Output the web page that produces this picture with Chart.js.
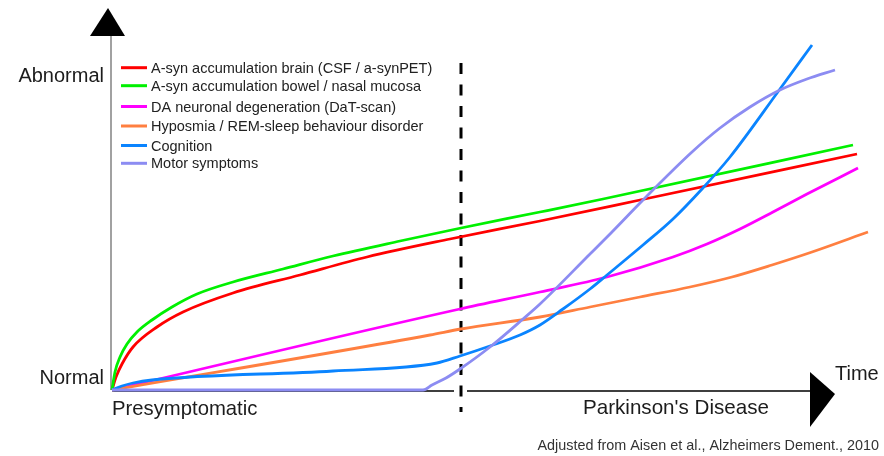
<!DOCTYPE html>
<html>
<head>
<meta charset="utf-8">
<title>Parkinson's disease biomarker timeline</title>
<script src="https://cdn.jsdelivr.net/npm/chart.js@4.4.1/dist/chart.umd.min.js"></script>
<style>
  html, body { margin: 0; padding: 0; background: #ffffff; }
  #wrap { width: 884px; height: 456px; position: relative; }
  canvas { display: block; }
</style>
</head>
<body>
<div id="wrap"><canvas id="timeline" width="884" height="456"></canvas></div>
<script>
// Time runs along x (arbitrary units), level of abnormality along y (arbitrary units).
// Each series is a list of [time, level] pairs.
const seriesLabels = [
  'A-syn accumulation brain (CSF / a-synPET)',
  'A-syn accumulation bowel / nasal mucosa',
  'DA neuronal degeneration (DaT-scan)',
  'Hyposmia / REM-sleep behaviour disorder',
  'Cognition',
  'Motor symptoms'
];
const seriesColors = ['#ff0000', '#00f000', '#ff00ff', '#ff7f40', '#0a84ff', '#8c8cf2'];

const brainSyn = [[0,0],[4,13],[10,26],[21,43],[45,63],[71,78],[121,97],[188,115],[255,133],[338,151],[428,169],[528,190],[745,236]];
const bowelSyn = [[0,0],[3,18],[8,33],[15,46],[25,58],[40,70],[60,83],[85,96],[121,108],[171,121],[221,134],[288,149],[349,162],[428,178],[491,191],[741,245]];
const daDegeneration = [[0,0],[348,81],[428,98],[495,113],[561,133],[595,146],[628,161],[661,178],[695,196],[746,222]];
const hyposmiaRbd = [[0,0],[318,55],[349,61],[428,73],[478,83],[528,93],[578,103],[620,113],[660,125],[700,138],[756,158]];
const cognition = [[0,0],[10,4],[21,7],[40,10],[221,19],[325,27],[348,34],[378,44],[408,55],[428,65],[451,81],[478,101],[495,115],[531,145],[561,171],[590,201],[618,233],[668,301],[700,345]];
const motorSymptoms = [[0,0],[311,0],[320,5],[334,12],[348,21],[378,43],[411,71],[428,86],[478,136],[500,158],[531,190],[580,238],[608,262],[638,283],[668,300],[695,311],[723,320]];

const seriesValues = [brainSyn, bowelSyn, daDegeneration, hyposmiaRbd, cognition, motorSymptoms];

// Phase boundary between the presymptomatic stage and clinical disease
const diagnosisTime = 349;

const axisLabels = { high: 'Abnormal', low: 'Normal', time: 'Time' };
const phaseLabels = ['Presymptomatic', "Parkinson's Disease"];
const sourceNote = 'Adjusted from Aisen et al., Alzheimers Dement., 2010';

const FONT = "'Liberation Sans', Arial, Helvetica, sans-serif";

const datasets = seriesValues.map((pts, i) => ({
  label: seriesLabels[i],
  data: pts.map(p => ({ x: p[0], y: p[1] })),
  borderColor: seriesColors[i],
  backgroundColor: seriesColors[i],
  borderWidth: 2.8,
  pointRadius: 0,
  fill: false,
  cubicInterpolationMode: 'monotone',
  clip: false,
  order: 6 - i
}));

function triangle(ctx, a, b, c) {
  ctx.beginPath();
  ctx.moveTo(a[0], a[1]);
  ctx.lineTo(b[0], b[1]);
  ctx.lineTo(c[0], c[1]);
  ctx.closePath();
  ctx.fill();
}

const diagramFrame = {
  id: 'diagramFrame',
  beforeDatasetsDraw(chart) {
    const ctx = chart.ctx;
    const xs = chart.scales.x, ys = chart.scales.y;
    const ox = xs.getPixelForValue(0), oy = ys.getPixelForValue(0);
    const dx = xs.getPixelForValue(diagnosisTime);
    ctx.save();

    // vertical axis with arrow head
    ctx.strokeStyle = '#8a8a8a';
    ctx.lineWidth = 1.6;
    ctx.beginPath();
    ctx.moveTo(ox - 1, oy);
    ctx.lineTo(ox - 1, 34);
    ctx.stroke();
    ctx.fillStyle = '#000';
    triangle(ctx, [ox - 22, 36], [ox + 13, 36], [ox - 4, 8]);

    // horizontal axis with arrow head
    ctx.strokeStyle = '#000';
    ctx.lineWidth = 1.5;
    ctx.beginPath();
    ctx.moveTo(ox, oy + 1);
    ctx.lineTo(dx - 7, oy + 1);
    ctx.moveTo(dx + 6, oy + 1);
    ctx.lineTo(812, oy + 1);
    ctx.stroke();
    triangle(ctx, [810, 372], [810, 427], [835, 394]);

    // dashed phase boundary
    ctx.lineWidth = 3;
    ctx.setLineDash([11, 10.5]);
    ctx.beginPath();
    ctx.moveTo(dx, 63);
    ctx.lineTo(dx, 412);
    ctx.stroke();
    ctx.restore();
  },
  afterDraw(chart) {
    const ctx = chart.ctx;
    ctx.save();
    ctx.fillStyle = '#1c1c1c';
    ctx.textBaseline = 'alphabetic';

    ctx.font = '20px ' + FONT;
    ctx.textAlign = 'right';
    ctx.fillText(axisLabels.high, 104, 82);
    ctx.fillText(axisLabels.low, 104, 384);
    ctx.textAlign = 'left';
    ctx.fillText(axisLabels.time, 835, 380);
    ctx.font = '20.3px ' + FONT;
    ctx.fillText(phaseLabels[0], 112, 415);
    ctx.font = '20.6px ' + FONT;
    ctx.fillText(phaseLabels[1], 583, 414);

    ctx.font = '14.4px ' + FONT;
    ctx.fillStyle = '#333';
    ctx.textAlign = 'right';
    ctx.fillText(sourceNote, 879, 450);

    // series key
    const rowY = [67.7, 85.7, 106.5, 126, 145.5, 163.3];
    ctx.textAlign = 'left';
    ctx.font = '14.5px ' + FONT;
    seriesLabels.forEach((lab, i) => {
      ctx.strokeStyle = seriesColors[i];
      ctx.lineWidth = 3;
      ctx.beginPath();
      ctx.moveTo(121, rowY[i]);
      ctx.lineTo(147, rowY[i]);
      ctx.stroke();
      ctx.fillStyle = '#222';
      ctx.fillText(lab, 151, rowY[i] + 5);
    });
    ctx.restore();
  }
};

new Chart(document.getElementById('timeline'), {
  type: 'line',
  data: { datasets },
  options: {
    responsive: false,
    animation: false,
    devicePixelRatio: 1,
    layout: { padding: { left: 112, right: 12, top: 40, bottom: 66 } },
    scales: {
      x: { type: 'linear', min: 0, max: 760, display: false },
      y: { type: 'linear', min: 0, max: 350, display: false }
    },
    plugins: { legend: { display: false }, tooltip: { enabled: false } }
  },
  plugins: [diagramFrame]
});
</script>
</body>
</html>
